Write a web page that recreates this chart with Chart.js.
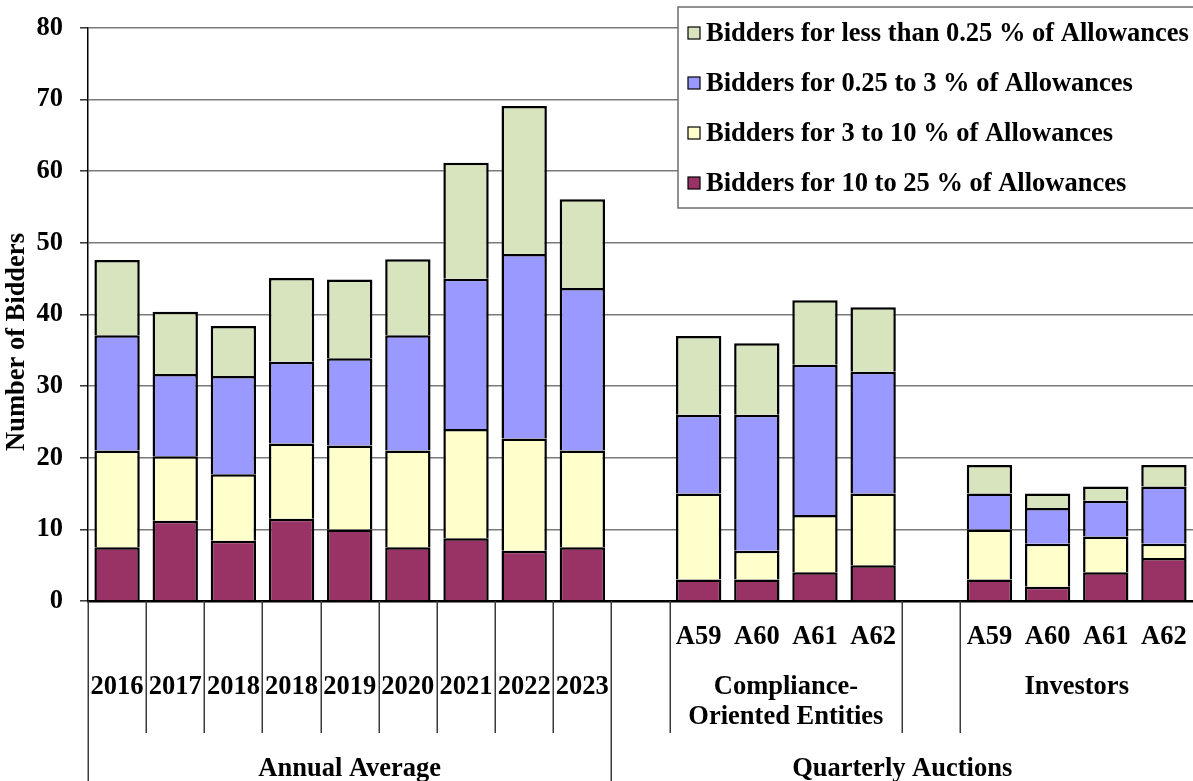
<!DOCTYPE html>
<html>
<head>
<meta charset="utf-8">
<title>Number of Bidders by Bid Size</title>
<script src="https://cdn.jsdelivr.net/npm/chart.js@4.4.1/dist/chart.umd.min.js"></script>
<style>
  html, body { margin: 0; padding: 0; background: #ffffff; }
  #wrap { width: 1193px; height: 781px; position: relative; }
</style>
</head>
<body>
<div id="wrap"><canvas id="chart" width="1193" height="781"></canvas></div>
<script>
// Category slots: nine annual averages, a spacer, four compliance auctions, a spacer, four investor auctions
const categories = ['2016', '2017', '2018', '2018', '2019', '2020', '2021', '2022', '2023', '',
                    'A59', 'A60', 'A61', 'A62', '', 'A59', 'A60', 'A61', 'A62'];

// Number of bidders in each bid-size bracket (stack segments, bottom to top)
const bidders10to25 = [7.5, 11.2, 8.4, 11.5, 10, 7.5, 8.75, 7, 7.5, null, 3, 3, 4, 5, null, 3, 2, 4, 6];
const bidders3to10 = [13.5, 9, 9.3, 10.5, 11.7, 13.5, 15.25, 15.7, 13.5, null, 12, 4, 8, 10, null, 7, 6, 5, 2];
const bidders025to3 = [16.1, 11.5, 13.7, 11.4, 12.2, 16.1, 21, 25.75, 22.7, null, 11, 19, 21, 17, null, 5, 5, 5, 8];
const biddersUnder025 = [10.5, 8.7, 7, 11.7, 11, 10.6, 16.2, 20.65, 12.4, null, 11, 10, 9, 9, null, 4, 2, 2, 3];

const seriesNames = [
  'Bidders for 10 to 25 % of Allowances',
  'Bidders for 3 to 10 % of Allowances',
  'Bidders for 0.25 to 3 % of Allowances',
  'Bidders for less than 0.25 % of Allowances'
];
const seriesColors = ['#993366', '#FFFFCC', '#9999FF', '#D7E4BD'];

// Y axis ticks
const yTicks = [0, 10, 20, 30, 40, 50, 60, 70, 80];
const yTitle = 'Number of Bidders';

// Grouping of the category axis
const subGroups = [
  { lines: ['Compliance-', 'Oriented Entities'], first: 10, last: 13 },
  { lines: ['Investors'], first: 15, last: 18 }
];
const topGroups = [
  { label: 'Annual Average', first: 0, last: 8 },
  { label: 'Quarterly Auctions', first: 10, last: 18 }
];

const FONT = '"Liberation Serif", "Times New Roman", serif';
const FONT_SIZE = 26.5;

const groupAxisPlugin = {
  id: 'groupAxis',
  afterDraw(chart) {
    const ctx = chart.ctx;
    const x = chart.scales.x;
    const area = chart.chartArea;
    const half = (x.getPixelForValue(1) - x.getPixelForValue(0)) / 2;
    const base = area.bottom;
    const mid = base + 132;
    const bottom = chart.height;
    const edge = i => x.getPixelForValue(i) - half;

    ctx.save();
    ctx.strokeStyle = '#3a3a3a';
    ctx.lineWidth = 1.5;
    const vline = (px, y2) => {
      ctx.beginPath();
      ctx.moveTo(Math.round(px) + 0.25, base);
      ctx.lineTo(Math.round(px) + 0.25, y2);
      ctx.stroke();
    };
    // dividers between annual categories
    for (let i = 1; i <= 9; i++) vline(edge(i), i === 9 ? bottom : mid);
    vline(edge(0), bottom);
    // dividers around the quarterly sub-groups
    vline(edge(10), mid);
    vline(edge(14), mid);
    vline(edge(15), mid);

    ctx.fillStyle = '#000';
    ctx.font = 'bold ' + FONT_SIZE + 'px ' + FONT;
    ctx.textAlign = 'center';
    ctx.textBaseline = 'middle';
    // category labels
    categories.forEach((c, i) => {
      if (!c) return;
      const y = i < 9 ? base + 86 : base + 36;
      ctx.fillText(c, x.getPixelForValue(i), y);
    });
    // sub-group labels
    subGroups.forEach(g => {
      const cx = (edge(g.first) + edge(g.last + 1)) / 2;
      g.lines.forEach((ln, k) => ctx.fillText(ln, cx, base + 86 + k * 30));
    });
    // top-level groups
    topGroups.forEach(g => {
      const right = g.last + 1 >= categories.length ? area.right : edge(g.last + 1);
      const left = g.first === 10 ? edge(9) : edge(g.first);
      ctx.fillText(g.label, (left + right) / 2, base + 168);
    });

    // y axis title
    ctx.save();
    ctx.translate(17, 342);
    ctx.rotate(-Math.PI / 2);
    ctx.fillText(yTitle, 0, 0);
    ctx.restore();

    // legend box
    const lx = 678, ly = 7, lw = 530, lh = 201;
    ctx.fillStyle = '#ffffff';
    ctx.fillRect(lx, ly, lw, lh);
    ctx.strokeStyle = '#6e6e6e';
    ctx.lineWidth = 1.5;
    ctx.strokeRect(lx, ly, lw, lh);
    ctx.textAlign = 'left';
    const items = chart.data.datasets.slice().reverse();
    items.forEach((ds, k) => {
      const cy = 33 + k * 50;
      ctx.fillStyle = ds.backgroundColor;
      ctx.fillRect(688, cy - 6, 12, 12);
      ctx.strokeStyle = '#000';
      ctx.lineWidth = 1.2;
      ctx.strokeRect(688, cy - 6, 12, 12);
      ctx.fillStyle = '#000';
      ctx.fillText(ds.label, 706, cy + 1);
    });
    ctx.restore();
  }
};

const seriesValues = [bidders10to25, bidders3to10, bidders025to3, biddersUnder025];

new Chart(document.getElementById('chart'), {
  type: 'bar',
  data: {
    labels: categories,
    datasets: seriesValues.map((vals, i) => ({
      label: seriesNames[i],
      data: vals,
      backgroundColor: seriesColors[i],
      borderColor: '#000000',
      borderWidth: 2.5,
      barPercentage: 0.78,
      categoryPercentage: 1.0
    }))
  },
  options: {
    responsive: false,
    animation: false,
    layout: { padding: { top: 28, right: 0, bottom: 0, left: 0 } },
    plugins: {
      legend: { display: false },
      tooltip: { enabled: false },
      title: { display: false }
    },
    scales: {
      x: {
        stacked: true,
        grid: { display: false },
        ticks: { display: false },
        border: { display: true, color: '#000000', width: 2.5 },
        afterFit(scale) { scale.height = 180; }
      },
      y: {
        stacked: true,
        min: 0,
        max: 80,
        afterBuildTicks(scale) { scale.ticks = yTicks.map(v => ({ value: v })); },
        ticks: {
          padding: 17,
          color: '#000000',
          font: { family: FONT, size: FONT_SIZE, weight: 'bold' }
        },
        grid: {
          color: '#7a7a7a',
          lineWidth: 1.6,
          tickLength: 8,
          tickColor: '#333333',
          tickWidth: 1.5
        },
        border: { display: true, color: '#000000', width: 1.5 },
        afterFit(scale) {
          scale.width = 88;
          scale.paddingTop = 0;
          scale.paddingBottom = 0;
        }
      }
    }
  },
  plugins: [groupAxisPlugin]
});
</script>
</body>
</html>
